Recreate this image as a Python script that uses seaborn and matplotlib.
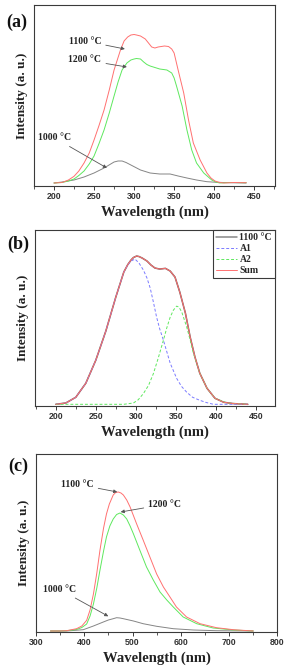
import seaborn as sns
import matplotlib.pyplot as plt
from matplotlib.ticker import MultipleLocator

# ---- panel (a): excitation spectra ----
a_1100_wl = [200, 210, 218, 225, 231, 237.5, 244, 250, 256, 262.5, 269, 275, 283, 287.5, 292, 296, 300,
             303, 308, 314, 318, 322, 326, 330, 338, 343, 347, 350, 355, 362, 368, 374, 382.5, 391,
             396, 401, 406, 412, 425, 440]
a_1100 = [0, 0.5, 3, 6.7, 12, 20, 30, 43, 57, 73, 93, 113, 133, 142, 146, 148, 148.5,
          148, 147, 144, 140, 136, 135, 136, 137, 136.5, 134, 130, 113, 90, 63, 40, 23, 10,
          5, 2, 0.7, 0, 0.5, 0.3]
a_1200_wl = [200, 210, 218, 225, 231, 237.5, 244, 250, 256, 262.5, 269, 275, 280, 285, 291, 296, 300,
             303, 308, 312, 316, 320, 326, 332, 341, 347, 350, 353, 360, 366, 372, 378, 387, 397,
             402, 407, 420, 440]
a_1200 = [0, 0.5, 2, 4, 7.5, 12, 19, 27, 39, 53, 70, 87, 101, 113, 120, 123, 124,
          124.5, 124, 121, 118.5, 117, 115.5, 114, 113, 110, 105, 97, 77, 53, 33, 20, 10, 3,
          1, 0, 0.5, 0.3]
a_1000_wl = [200, 210, 225, 237.5, 250, 262.5, 275, 280, 285, 290, 296, 308, 320, 332, 345, 355,
             366, 378, 391, 403, 420, 440]
a_1000 = [0, 1, 3, 6, 10, 15, 21, 22, 22, 20.5, 18, 13, 10, 9, 9, 7, 5, 3, 1.3, 0.7, 0.3, 0]

# ---- panel (b): peak fit of the 1100 °C sample ----
b_wl = [200, 212.5, 225, 237.5, 250, 262.5, 275, 285, 290, 294, 297, 301, 304, 308, 314, 319, 324,
        330, 337, 343, 349, 355, 362, 368, 374, 380, 389, 399, 410, 422, 440]
b_1100 = [0, 1.3, 7, 21, 44, 73, 107, 132, 139.5, 144, 146.5, 148, 147.5, 146, 143, 139, 136,
          135, 135.7, 133, 127, 112, 91, 67, 47, 31, 16, 6, 2, 0.7, 0]
b_sum = [0, 1.3, 7, 21, 44, 73, 107, 132, 139.5, 144, 146.5, 148, 147.5, 146, 143, 139, 136,
         135, 135.7, 133, 127, 112, 91, 67, 47, 31, 16, 6, 2, 0.7, 0]
b_a1_wl = [200, 212.5, 225, 237.5, 250, 262.5, 275, 285, 290, 294, 299, 304, 309.5, 314, 318, 322,
           326, 330, 334.5, 343, 351, 357, 363.7, 371, 380, 388, 397, 420, 440]
b_a1 = [0, 1.3, 7, 21, 44, 73, 107, 132, 139, 143, 145, 141, 134, 126, 116, 102,
        87, 75, 64, 41, 26, 18, 12, 7, 4, 1.8, 0, 0, 0]
b_a2_wl = [200, 250, 285, 297, 303, 309.5, 316, 322, 328, 334.5, 339, 343, 347, 351, 354, 357.5,
           363.7, 368, 372, 380, 389, 399, 414, 440]
b_a2 = [0, 0, 0, 1.3, 4.5, 10.7, 19, 30.7, 46, 64, 77, 87, 94, 98, 97, 92,
        77, 64, 51, 31, 16, 6, 1.3, 0]

# ---- panel (c): emission spectra ----
c_1100_wl = [330, 350, 363.5, 384, 395, 405, 412, 419, 426, 432.6, 440, 446, 452, 460, 465, 470.6,
             476, 481, 488, 495, 508.6, 522, 536, 550, 564, 577.6, 591, 612, 640, 674, 709, 750]
c_1100 = [0, 0, 0.3, 2.3, 5, 10.7, 21, 37, 58, 81, 103, 117, 127, 136, 138.5, 139,
          138, 136, 131, 124, 107, 91, 74, 57, 44, 34, 24, 14, 7.3, 3.3, 1.3, 0]
c_1200_wl = [330, 350, 363.5, 384, 395, 405, 412, 419, 426, 432.6, 440, 446, 453, 460, 467, 474,
             481, 488, 495, 502, 515, 529, 543, 557, 571, 584.5, 605, 633, 667, 709, 750]
c_1200 = [0, 0, 0.3, 1.5, 3.5, 7, 15, 27, 43, 61, 80, 94, 105, 112, 116.5, 118,
          116, 112, 105, 97, 81, 64, 51, 39, 31, 24, 14, 7.3, 3, 1, 0]
c_1000_wl = [330, 363.5, 398, 419, 439.5, 450, 460, 467, 474, 481, 502, 522, 550, 584.5, 626, 674, 750]
c_1000 = [0, 0, 1.3, 5, 9, 11, 12.3, 13.3, 13, 12.3, 10, 7.3, 4.7, 2.3, 1, 0.3, 0]

RED = "#ff7070"
GREEN = "#5ee85e"
GRAY = "#858585"
BLUE = "#7b7bff"
FRAME = "#3a3a3a"

sns.set_style("white")
plt.rcParams["font.family"] = ["Liberation Sans", "DejaVu Sans"]
serif = ["Liberation Serif", "DejaVu Serif"]

W, H = 291, 669
fig = plt.figure(figsize=(W / 100, H / 100), dpi=100)


def box(left, top, right, bottom):
    return [left / W, 1 - bottom / H, (right - left) / W, (bottom - top) / H]


def style(ax, xlim, ylim, major, minor):
    ax.set_xlim(*xlim)
    ax.set_ylim(*ylim)
    ax.set_yticks([])
    ax.xaxis.set_major_locator(MultipleLocator(major))
    ax.xaxis.set_minor_locator(MultipleLocator(minor))
    ax.tick_params(axis="x", which="major", direction="out", length=3, width=0.7,
                   color=FRAME, pad=1.5, bottom=True)
    ax.tick_params(axis="x", which="minor", direction="out", length=2, width=0.6,
                   color=FRAME, bottom=True)
    for lab in ax.get_xticklabels():
        lab.set_fontsize(6.3)
        lab.set_fontweight("bold")
        lab.set_color("#333333")
    for sp in ax.spines.values():
        sp.set_color(FRAME)
        sp.set_linewidth(0.8)
    ax.set_xlabel("Wavelength (nm)", family=serif, fontweight="bold", fontsize=10.5,
                  labelpad=3, color="#222222")
    ax.set_ylabel("Intensity (a. u.)", family=serif, fontweight="bold", fontsize=9.5,
                  labelpad=4, color="#222222")


def note(ax, text, xy, xytext):
    ax.annotate(text, xy=xy, xytext=xytext, ha="center", va="center",
                family=serif, fontweight="bold", fontsize=7, color="#222222",
                arrowprops=dict(arrowstyle="-|>", color="#555555", lw=0.6,
                                mutation_scale=5, shrinkA=1, shrinkB=0))


# (a)
ax = fig.add_axes(box(34, 5, 275, 186))
sns.lineplot(x=a_1000_wl, y=a_1000, ax=ax, color=GRAY, lw=0.7)
sns.lineplot(x=a_1200_wl, y=a_1200, ax=ax, color=GREEN, lw=0.7)
sns.lineplot(x=a_1100_wl, y=a_1100, ax=ax, color=RED, lw=0.7)
style(ax, (175, 476), (-3, 178), 50, 25)
note(ax, "1100 °C", (288.5, 134), (238.5, 142))
note(ax, "1200 °C", (291, 116), (238.5, 123))
note(ax, "1000 °C", (266, 15), (201, 45))

# (b)
ax = fig.add_axes(box(35, 230, 275, 406))
sns.lineplot(x=b_wl, y=b_1100, ax=ax, color="#6a5a5a", lw=1.1, label="1100 °C")
sns.lineplot(x=b_a1_wl, y=b_a1, ax=ax, color=BLUE, lw=0.7, linestyle=(0, (3, 2)), label="A1")
sns.lineplot(x=b_a2_wl, y=b_a2, ax=ax, color=GREEN, lw=0.7, linestyle=(0, (3, 2)), label="A2")
sns.lineplot(x=b_wl, y=b_sum, ax=ax, color=RED, lw=0.7, label="Sum")
style(ax, (174, 474), (-1.7, 174), 50, 25)
leg = ax.legend(loc="upper right", borderaxespad=0, fancybox=False, edgecolor=FRAME,
                framealpha=1, handlelength=2.1, handletextpad=0.3, labelspacing=0.22,
                borderpad=0.3, prop={"family": serif, "weight": "bold", "size": 7})
leg.get_frame().set_linewidth(0.8)
leg.legend_handles[0].set_color("#888888")

# (c)
ax = fig.add_axes(box(36, 454, 277.3, 632))
sns.lineplot(x=c_1000_wl, y=c_1000, ax=ax, color=GRAY, lw=0.7)
sns.lineplot(x=c_1200_wl, y=c_1200, ax=ax, color=GREEN, lw=0.7)
sns.lineplot(x=c_1100_wl, y=c_1100, ax=ax, color=RED, lw=0.7)
style(ax, (300, 800), (-1, 177), 100, 50)
note(ax, "1100 °C", (468.4, 139), (385.6, 146.7))
note(ax, "1200 °C", (475.4, 119), (567, 126.7))
note(ax, "1000 °C", (449.8, 14.7), (349.7, 41.4))

for lab, (x, y) in zip(["(a)", "(b)", "(c)"], [(16.7, 22.7), (18.3, 244), (18.3, 466)]):
    fig.text(x / W, 1 - y / H, lab, family=serif, fontweight="bold", fontsize=13,
             ha="center", va="center", color="#111111")

fig.savefig("out.png", dpi=100)
